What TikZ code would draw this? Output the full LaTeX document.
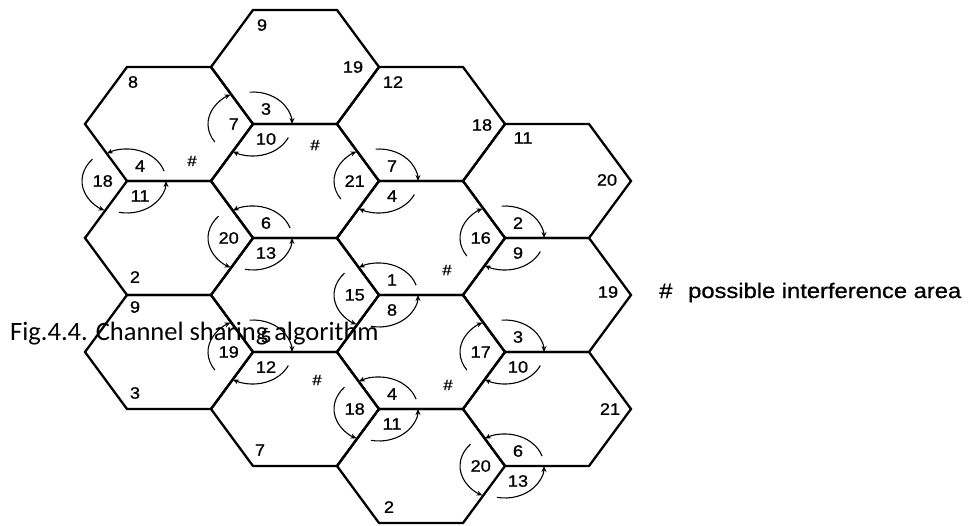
\documentclass[tikz,border=0pt]{standalone}
\usepackage{fontspec}
\setmainfont{Liberation Sans}
\newfontfamily\cellfont[FakeStretch=1.1,FakeBold=1]{Liberation Sans}
\newfontfamily\legfont[FakeStretch=1.13,FakeBold=0.8]{Liberation Sans}
\newfontfamily\capfont{Carlito}
\usetikzlibrary{arrows.meta}
% one cell of the cluster, centre given in pixels (y downwards)
\newcommand{\cellhex}[2]{%
  \draw[hexline] (#1-84,-#2) -- (#1-42,-#2+57) -- (#1+42,-#2+57) -- (#1+84,-#2)
    -- (#1+42,-#2-57) -- (#1-42,-#2-57) -- cycle;}
% borrowing corner: x, y, left set, upper set, lower set, name
\newcommand{\borrowcw}[6]{%
  \coordinate (#6) at (#1,-#2);
  \node[cell,anchor=east] (#6-l) at (#1-14,-#2) {#3};
  \node[cell] (#6-u) at (#1+13,-#2+15) {#4};
  \node[cell] (#6-d) at (#1+13,-#2-15) {#5};
  \draw[arrow] (#6) ++(212:45 and 34) arc[start angle=212,end angle=120,x radius=45,y radius=34];
  \draw[arrow] (#6) ++(95:39 and 32) arc[start angle=95,end angle=0,x radius=39,y radius=32];
  \draw[arrow] (#6) ++(-25:39 and 32) arc[start angle=-25,end angle=-121,x radius=39,y radius=32];}
\newcommand{\borrowccw}[6]{%
  \coordinate (#6) at (#1,-#2);
  \node[cell,anchor=east] (#6-l) at (#1-14,-#2) {#3};
  \node[cell] (#6-u) at (#1+13,-#2+15) {#4};
  \node[cell] (#6-d) at (#1+13,-#2-15) {#5};
  \draw[arrow] (#6) ++(140:45 and 34) arc[start angle=140,end angle=240,x radius=45,y radius=34];
  \draw[arrow] (#6) ++(18:39 and 32) arc[start angle=18,end angle=121,x radius=39,y radius=32];
  \draw[arrow] (#6) ++(258:39 and 32) arc[start angle=258,end angle=360,x radius=39,y radius=32];}

\begin{document}
\begin{tikzpicture}[
    x=1pt,y=1pt,
    hexline/.style={draw=black,line width=2.3pt,line join=miter},
    arrow/.style={->,>={Stealth[length=6pt,width=5pt]},line width=1.1pt},
    cell/.style={font=\cellfont\fontsize{16.5}{18}\selectfont,inner sep=0pt},
    hashmark/.style={font=\cellfont\fontsize{15}{15}\selectfont,inner sep=0pt},
    legend/.style={font=\legfont\fontsize{21}{24}\selectfont,inner sep=0pt,anchor=base west},
    caption/.style={font=\capfont\fontsize{26.5}{30}\selectfont,inner sep=0pt,anchor=base west}
]
\useasboundingbox (0,0) rectangle (969,-525);

% cells
\cellhex{169}{124}
\cellhex{169}{238}
\cellhex{169}{352}
\cellhex{295}{67}
\cellhex{295}{181}
\cellhex{295}{295}
\cellhex{295}{409}
\cellhex{421}{124}
\cellhex{421}{238}
\cellhex{421}{352}
\cellhex{421}{466}
\cellhex{547}{181}
\cellhex{547}{295}
\cellhex{547}{409}

% corners with channel borrowing
\borrowccw{127}{181}{18}{4}{11}{va}
\borrowcw{253}{124}{7}{3}{10}{vb}
\borrowccw{253}{238}{20}{6}{13}{vc}
\borrowcw{379}{181}{21}{7}{4}{vd}
\borrowcw{253}{352}{19}{5}{12}{ve}
\borrowccw{379}{295}{15}{1}{8}{vf}
\borrowcw{505}{238}{16}{2}{9}{vg}
\borrowccw{379}{409}{18}{4}{11}{vh}
\borrowcw{505}{352}{17}{3}{10}{vi}
\borrowccw{505}{466}{20}{6}{13}{vj}

% set numbers at the other corners
\node[cell] (b1-top) at (262,-25) {9};
\node[cell] (b1-right) at (353,-67) {19};
\node[cell] (a1-top) at (133,-82) {8};
\node[cell] (c1-top) at (393,-82) {12};
\node[cell] (c1-right) at (482,-125) {18};
\node[cell] (d1-top) at (523,-138) {11};
\node[cell] (d1-right) at (607,-180) {20};
\node[cell] (a2-bot) at (135,-277) {2};
\node[cell] (a3-top) at (135,-307) {9};
\node[cell] (d2-right) at (608,-292) {19};
\node[cell] (a3-bot) at (135,-393) {3};
\node[cell] (d3-right) at (610,-409) {21};
\node[cell] (b4-bot) at (260,-450) {7};
\node[cell] (c4-bot) at (389,-507) {2};

% interference areas
\node[hashmark] (ia1) at (192,-161) {\#};
\node[hashmark] (ia2) at (315,-145) {\#};
\node[hashmark] (ia3) at (447,-270) {\#};
\node[hashmark] (ia4) at (317,-380) {\#};
\node[hashmark] (ia5) at (448,-385) {\#};

% legend and caption
\node[legend] (key) at (659,-298) {\#};
\node[legend] (keytext) at (688,-298) {possible interference area};
\node[caption] (cap) at (10,-340) {Fig.4.4. Channel sharing algorithm};

\end{tikzpicture}
\end{document}
